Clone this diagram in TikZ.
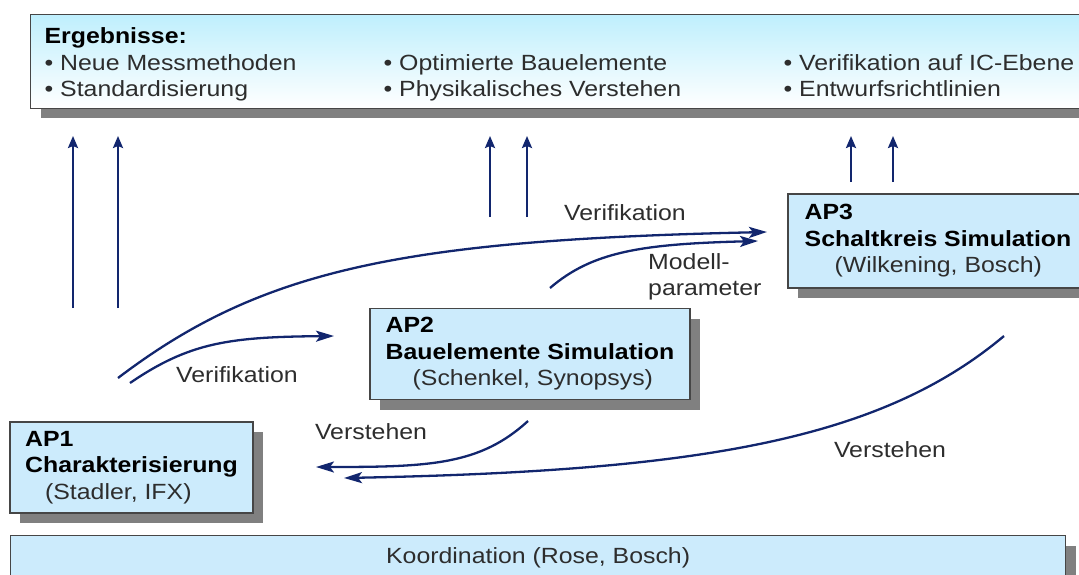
\documentclass[tikz,border=0pt]{standalone}
\usepackage{fontspec}
\setmainfont{Liberation Sans}[FakeStretch=1.13]
\usepackage{tikz}
\usetikzlibrary{positioning, shadows, arrows.meta}

\definecolor{apblue}{RGB}{204,235,252}
\definecolor{apline}{RGB}{70,70,70}
\definecolor{apshadow}{RGB}{128,128,128}
\definecolor{flownavy}{RGB}{18,38,110}
\definecolor{aptext}{RGB}{45,45,45}

\tikzset{
  apbox/.style={draw=apline, line width=1.2pt, fill=apblue, align=left, text=aptext,
    inner xsep=13pt, minimum height=91pt,
    drop shadow={shadow xshift=10pt, shadow yshift=-10pt, fill=apshadow, opacity=1}},
  flow/.style={draw=flownavy, line width=2.3pt, -{Stealth[length=18pt,width=11pt,inset=4pt]}},
  uparrow/.style={flow, -{Stealth[length=12pt,width=10pt,inset=2pt]}},
  lbl/.style={inner sep=0pt, text=aptext},
}

\begin{document}
\begin{tikzpicture}[x=1pt, y=-1pt, node distance=100pt, on grid,
    font=\fontsize{22pt}{26.5pt}\selectfont]
    \useasboundingbox (0,0) rectangle (1079,574);
    \clip (0,0) rectangle (1079,574);

    % results on top
    \node[apbox, anchor=north west, minimum width=1067pt, top color=apblue!90!cyan!90, bottom color=white]
        (ergebnisse) at (30,14) {%
        \begin{tabular}{@{}p{339pt}@{}p{400pt}@{}p{300pt}@{}}
        \rule{0pt}{26pt}\textcolor{black}{\textbf{Ergebnisse:}} & & \\
        • Neue Messmethoden & • Optimierte Bauelemente & • Verifikation auf IC-Ebene \\
        • Standardisierung & • Physikalisches Verstehen & • Entwurfsrichtlinien
        \end{tabular}};

    % work packages
    \node[apbox, minimum width=243pt] (ap1) at (131.5,467.5)
        {\textcolor{black}{\textbf{AP1}}\\\textcolor{black}{\textbf{Charakterisierung}}\\\hspace*{20pt}(Stadler, IFX)};
    \node[apbox, minimum width=320pt, above right=113.5pt and 398.5pt of ap1] (ap2)
        {\textcolor{black}{\textbf{AP2}}\\\textcolor{black}{\textbf{Bauelemente Simulation}}\\\hspace*{27pt}(Schenkel, Synopsys)};
    \node[apbox, minimum width=300pt, minimum height=94pt, above right=113pt and 408pt of ap2] (ap3)
        {\textcolor{black}{\textbf{AP3}}\\\textcolor{black}{\textbf{Schaltkreis Simulation}}\\\hspace*{30pt}(Wilkening, Bosch)};
    \node[apbox, anchor=north west, minimum width=1055pt, minimum height=45pt, align=center]
        (koord) at (10,535) {Koordination (Rose, Bosch)};

    % arrows up to the results
    \foreach \x/\yb [count=\i] in {73/308, 118/308, 490/217, 527/217, 851/182, 893/182} {
        \coordinate (up\i) at (\x,\yb);
        \coordinate (upend\i) at (\x,136);
        \draw[uparrow] (up\i) -- (upend\i);
    }

    % flows between the work packages
    \coordinate (vlongA) at (118,378);
    \coordinate (vlongB) at (767,232);
    \coordinate (vshortA) at (130,383);
    \coordinate (vshortB) at (334,336);
    \coordinate (modellA) at (550,288);
    \coordinate (modellB) at (758,241);
    \coordinate (verstA) at (528,421);
    \coordinate (verstB) at (316,467);
    \coordinate (verstlongA) at (1004,336);
    \coordinate (verstlongB) at (344,478);

    \draw[flow] (vlongA) .. controls (260,270) and (400,240) .. (vlongB);
    \draw[flow] (vshortA) .. controls (190,342) and (230,337) .. (vshortB);
    \draw[flow] (modellA) .. controls (592,252) and (640,244) .. (modellB);
    \draw[flow] (verstA) .. controls (480,465) and (430,467) .. (verstB);
    \draw[flow] (verstlongA) .. controls (880,440) and (700,471) .. (verstlongB);

    \node[lbl] (verif1) at (625,213) {Verifikation};
    \node[lbl] (verif2) at (237,375) {Verifikation};
    \node[lbl, align=left, anchor=west] (modell) at (648,277) {Modell-\\parameter};
    \node[lbl] (verst1) at (371,432) {Verstehen};
    \node[lbl] (verst2) at (890,450) {Verstehen};
\end{tikzpicture}
\end{document}
